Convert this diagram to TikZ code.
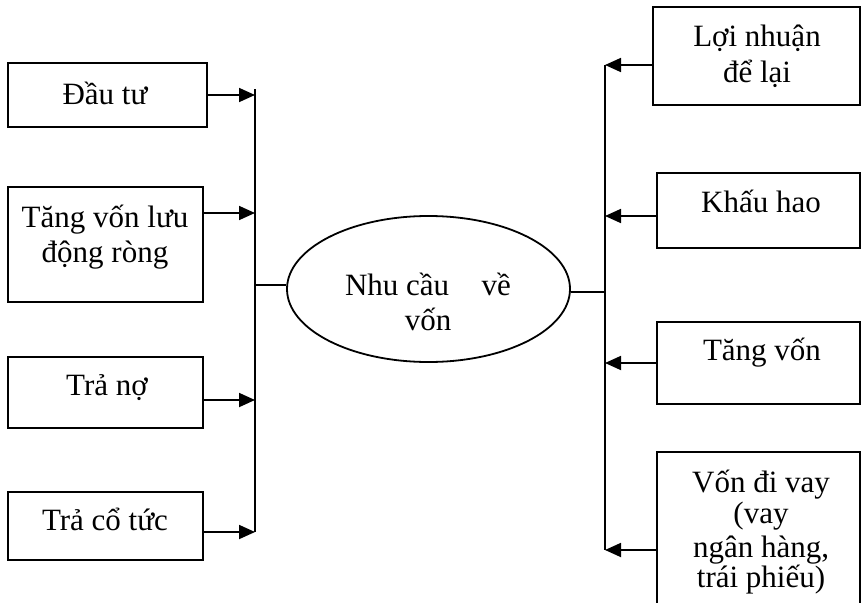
\documentclass[tikz,border=0pt]{standalone}
\usepackage{fontspec}
\setmainfont{Liberation Serif}
\usetikzlibrary{shapes.geometric,arrows.meta}
\begin{document}
\begin{tikzpicture}[x=1pt,y=-1pt,
  box/.style={draw,line width=1.8pt,inner sep=0pt,minimum width=#1},
  lbl/.style={inner sep=0pt,anchor=base,font=\fontsize{31}{36}\selectfont},
  conn/.style={line width=1.8pt},
  arr/.style={line width=1.8pt,-{Triangle[length=16pt,width=14pt]}}]
\useasboundingbox (0,0) rectangle (861,602);
\clip (0,0) rectangle (861,602);

% centre ellipse
\node[draw,ellipse,line width=1.8pt,inner sep=0pt,minimum width=283pt,minimum height=146pt] (nc) at (428.5,289) {};
\node[lbl] (nc1) at (428,295) {Nhu cầu\hspace{0.8em} về};
\node[lbl] (nc2) at (428,330) {vốn};

% uses of funds (left)
\node[box=199pt,minimum height=64pt] (b1) at (107.5,95) {};
\node[box=195pt,minimum height=115pt] (b2) at (105.5,244.5) {};
\node[box=195pt,minimum height=71pt] (b3) at (105.5,392.5) {};
\node[box=195pt,minimum height=68pt] (b4) at (105.5,526) {};
\node[lbl] (t1) at (105,104) {Đầu tư};
\node[lbl] (t2a) at (105,227) {Tăng vốn lưu};
\node[lbl] (t2b) at (105,262) {động ròng};
\node[lbl] (t3) at (107,395) {Trả nợ};
\node[lbl] (t4) at (105,530) {Trả cổ tức};

% sources of funds (right)
\node[box=207pt,minimum height=98pt] (r1) at (756.5,56) {};
\node[box=203pt,minimum height=75pt] (r2) at (758.5,210.5) {};
\node[box=203pt,minimum height=82pt] (r3) at (758.5,363) {};
\node[box=203pt,minimum height=168pt] (r4) at (758.5,536) {};
\node[lbl] (s1a) at (757,47) {Lợi nhuận};
\node[lbl] (s1b) at (757,82) {để lại};
\node[lbl] (s2) at (761,212) {Khấu hao};
\node[lbl] (s3) at (762,360) {Tăng vốn};
\node[lbl] (s4a) at (761,492) {Vốn đi vay};
\node[lbl] (s4b) at (761,523) {(vay};
\node[lbl] (s4c) at (761,557) {ngân hàng,};
\node[lbl] (s4d) at (761,587) {trái phiếu)};

% collector lines
\coordinate (lt) at (255,89);
\coordinate (lb) at (255,532);
\coordinate (rt) at (605,65);
\coordinate (rb) at (605,550);
\draw[conn] (lt) -- (lb);
\draw[conn] (rt) -- (rb);

% left arrows into the collector
\draw[arr] (b1.east) -- (b1.east -| lt);
\draw[arr] (b2.east |- 0,213) -- (lt |- 0,213);
\draw[arr] (b3.east |- 0,400) -- (lt |- 0,400);
\draw[arr] (b4.east |- 0,532) -- (lt |- 0,532);

% right arrows into the collector
\draw[arr] (r1.west |- 0,65) -- (rt |- 0,65);
\draw[arr] (r2.west |- 0,216) -- (rt |- 0,216);
\draw[arr] (r3.west |- 0,363) -- (rt |- 0,363);
\draw[arr] (r4.west |- 0,550) -- (rt |- 0,550);

% links to the ellipse
\draw[conn] (nc.west |- 0,285) -- (lt |- 0,285);
\draw[conn] (nc.east |- 0,292) -- (rt |- 0,292);
\end{tikzpicture}
\end{document}
